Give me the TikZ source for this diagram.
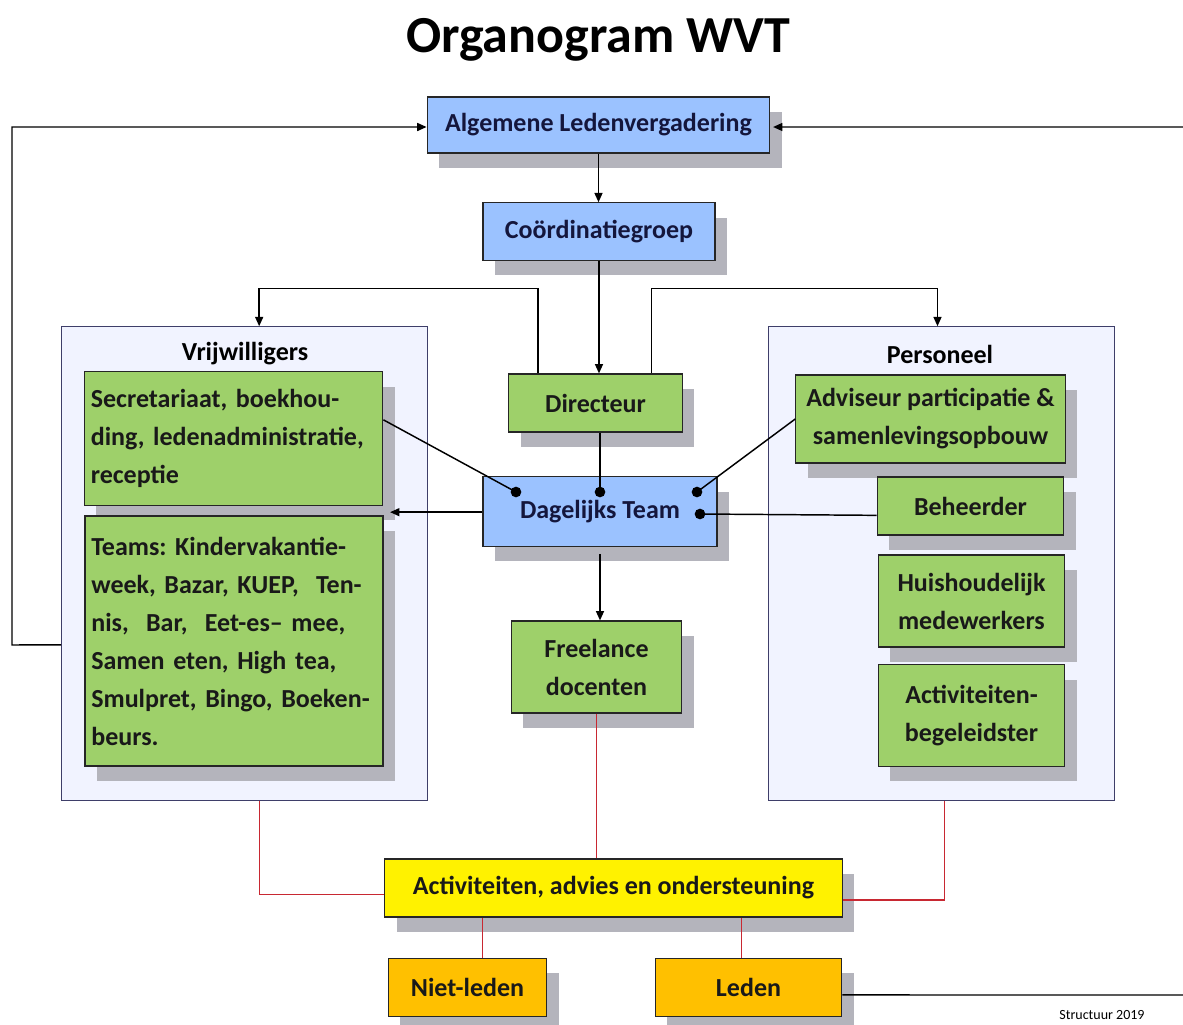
\documentclass[tikz,border=0pt]{standalone}
\usepackage{fontspec}
\setmainfont{Carlito}
\usetikzlibrary{positioning,shadows,arrows.meta}
\definecolor{boxblue}{RGB}{155,194,255}
\definecolor{boxgreen}{RGB}{158,208,106}
\definecolor{boxorange}{RGB}{255,192,0}
\definecolor{lavender}{RGB}{241,243,255}
\definecolor{framegray}{RGB}{62,62,105}
\definecolor{shadegray}{RGB}{180,180,188}
\definecolor{inkblue}{RGB}{20,22,60}
\definecolor{linkred}{RGB}{200,40,50}
\frenchspacing

\begin{document}
\begin{tikzpicture}[x=0.75pt,y=-0.75pt,
  every node/.style={font=\fontsize{19.5}{28.5}\selectfont\bfseries},
  bx/.style={draw=black!85, line width=0.9pt, align=center, inner sep=0pt,
    drop shadow={shadow xshift=9pt,shadow yshift=-11pt,fill=shadegray,opacity=1}},
  bluebox/.style={bx, fill=boxblue, text=inkblue},
  greenbox/.style={bx, fill=boxgreen, text=black!90},
  yellowbox/.style={bx, fill=yellow, text=black!90},
  orangebox/.style={bx, fill=boxorange, text=black!90},
  group/.style={draw=framegray, line width=0.9pt, fill=lavender, inner sep=0pt},
  dot/.style={circle, fill=black, inner sep=0pt, minimum size=8pt},
  arr/.style={line width=1.1pt, -{Triangle[length=7pt,width=6pt]}},
  link/.style={line width=1.1pt},
  redlink/.style={draw=linkred, line width=0.8pt}]
\useasboundingbox (0,0) rectangle (1183,1025);

\node (title) at (598,40) {\fontsize{39}{40}\selectfont Organogram WVT};

% top of the tree
\node[bluebox, minimum width=257pt, minimum height=42pt] (alv) at (598.5,125) {Algemene Ledenvergadering};
\node[bluebox, minimum width=174pt, minimum height=43pt] (coord) at (599,231.5) {Co\"ordinatiegroep};
\node[greenbox, minimum width=130pt, minimum height=43.5pt] (dir) at (595.5,403) {Directeur};

% the two groups
\node[group, minimum width=274pt, minimum height=355pt] (vrij) at (244.5,563.5) {};
\node (vrijlbl) at (245,354) {Vrijwilligers};
\node[group, minimum width=259pt, minimum height=355pt] (pers) at (941.5,563.5) {};
\node (perslbl) at (940,354) {Personeel};

\node[greenbox, minimum width=224pt, minimum height=100pt, text width=214pt, align=left] (sec) at (233.5,438.5) {Secretariaat, boekhou-\\ding, ledenadministratie,\\receptie};
\node[greenbox, minimum width=223.5pt, minimum height=187.5pt, text width=214pt, align=left] (teams) at (234,641) {Teams: Kindervakantie-\\week, Bazar, KUEP,\ \ Ten-\\nis,\ \ Bar,\ \ Eet-es– mee,\\Samen eten, High tea,\\Smulpret, Bingo, Boeken-\\beurs.};

\node[greenbox, minimum width=202pt, minimum height=66pt] (adv) at (930.5,419) {Adviseur participatie \&\\samenlevingsopbouw};
\node[greenbox, minimum width=140pt, minimum height=43.5pt] (beh) at (970.5,506) {Beheerder};
\node[greenbox, minimum width=140pt, minimum height=69pt] (huis) at (971.5,601) {Huishoudelijk\\medewerkers};
\node[greenbox, minimum width=140pt, minimum height=76pt] (begel) at (971.5,715.5) {Activiteiten-\\begeleidster};

\node[bluebox, minimum width=175.5pt, minimum height=52pt] (dag) at (600,511.5) {Dagelijks Team};
\node[greenbox, minimum width=128pt, minimum height=69pt] (free) at (596.5,667) {Freelance\\docenten};

\node[yellowbox, minimum width=343pt, minimum height=43.5pt] (act) at (613.5,888) {Activiteiten, advies en ondersteuning};
\node[orangebox, minimum width=119pt, minimum height=44pt] (niet) at (467.5,987.5) {Niet-leden};
\node[orangebox, minimum width=140pt, minimum height=44pt] (leden) at (748.5,987.5) {Leden};

\node[font=\fontsize{10.5}{11}\selectfont, anchor=base] (jaar) at (1102,1019) {Structuur 2019};

% dots on the Dagelijks Team
\node[dot] (d1) at ([shift={(-84,-19.5)}]dag.center) {};
\node[dot] (d2) at ([shift={(0,-19.5)}]dag.center) {};
\node[dot] (d3) at ([shift={(97,-19.5)}]dag.center) {};
\node[dot] (d4) at ([shift={(100,2.5)}]dag.center) {};

% connectors
\draw[arr] (alv.south) -- (alv.south |- coord.north);
\draw[arr] (coord.south) -- (coord.south |- dir.north);
\draw[arr] ([xshift=-43pt]dir.north) -- ++(0,-85) -| ([xshift=11pt]vrij.north);
\draw[arr] ([xshift=42pt]dir.north) -- ++(0,-85) -| ([xshift=-3pt]pers.north);
\coordinate (lft) at (12,645);
\coordinate (rgt) at (1186,995);
\draw[arr] ([yshift=-61pt]vrij.west) -- (lft) |- ([yshift=-1.5pt]alv.west);
\draw[arr] ([yshift=-5.6pt]leden.east) -- (rgt) |- ([xshift=2pt,yshift=-1.5pt]alv.east);

\draw[link] ([yshift=14pt]sec.east) -- (d1.center);
\draw[link] (dir.south -| d2) -- (d2.center);
\draw[link] (adv.west) -- (d3.center);
\draw[link] ([yshift=-7pt]beh.west) -- (d4.center);
\draw[arr] ([yshift=-0.5pt]dag.west) -- ([xshift=5pt,yshift=-0.5pt]dag.west -| sec.east);
\draw[arr] (dag.south) ++(0,7) -- (dag.south |- free.north);

\draw[redlink] ([xshift=11.5pt]vrij.south) |- ([yshift=-5pt]act.west);
\draw[redlink] (free.south) -- (free.south |- act.north);
\draw[redlink] ([xshift=2.5pt]pers.south) |- ([yshift=-9pt]act.east);
\draw[redlink] ([xshift=11.5pt]niet.north) -- ([xshift=11.5pt]niet.north |- act.south);
\draw[redlink] ([xshift=-5.5pt]leden.north) -- ([xshift=-5.5pt]leden.north |- act.south);
\end{tikzpicture}
\end{document}
